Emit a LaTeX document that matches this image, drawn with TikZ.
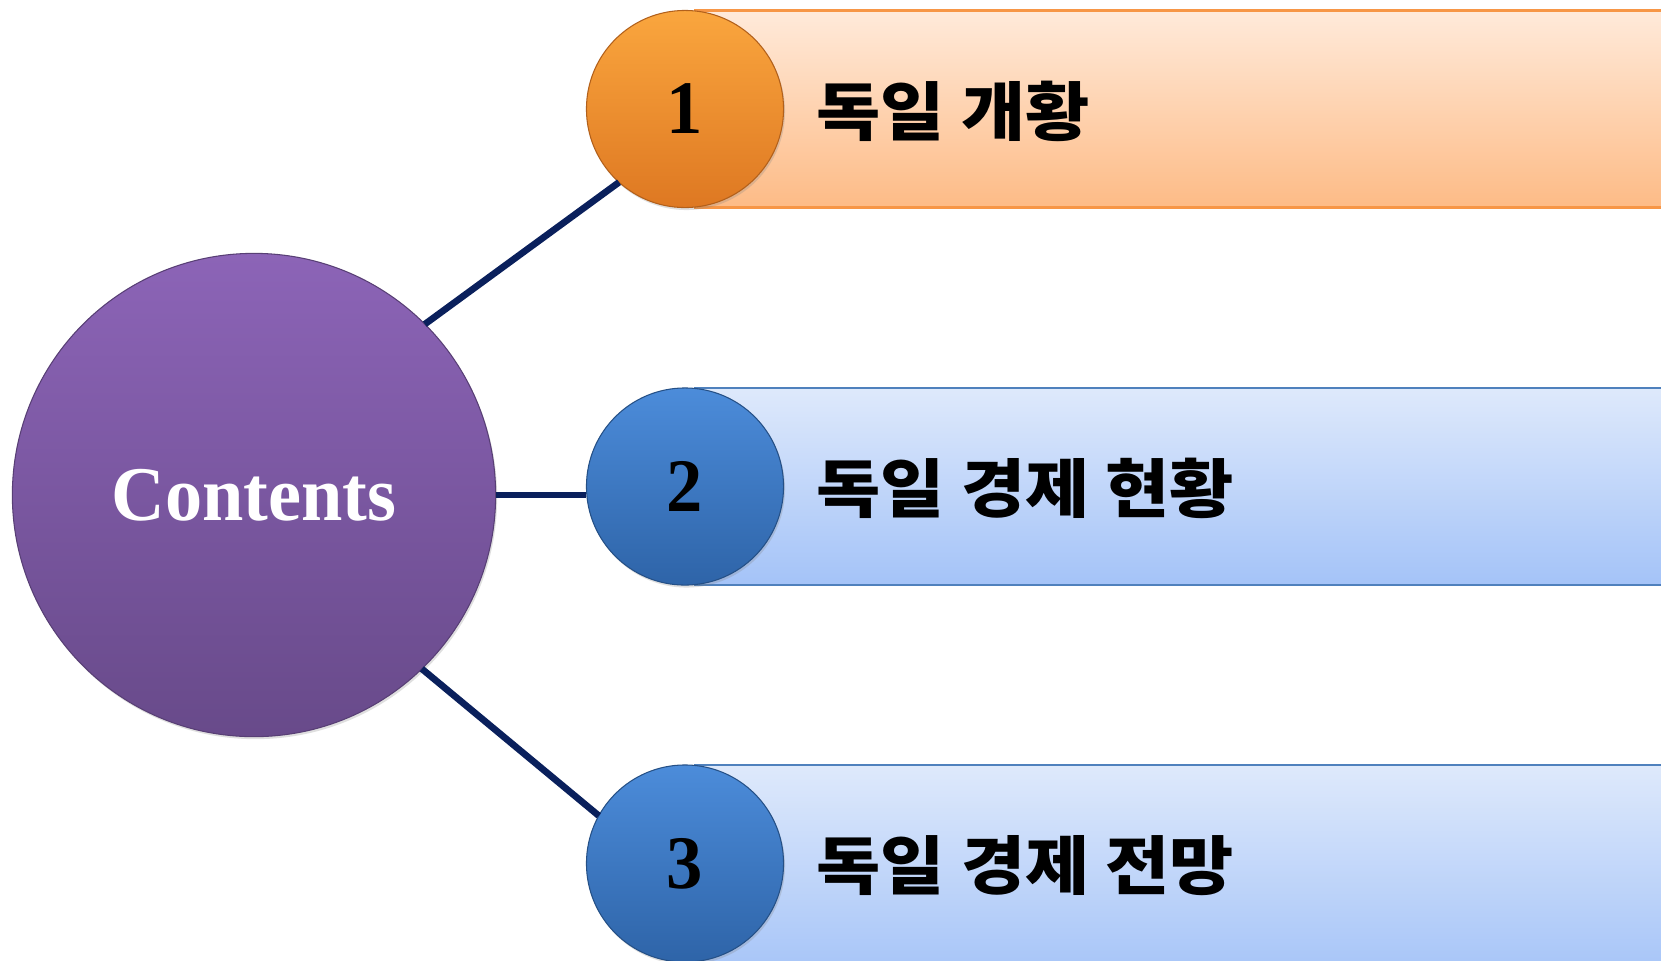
\documentclass[tikz,border=0pt]{standalone}
\usepackage{fontspec}
\usetikzlibrary{shadows}
\setmainfont{Liberation Serif}
\newfontfamily\narrowserif[FakeStretch=0.96]{Liberation Serif}
\newfontfamily\kr[FakeStretch=1.09]{Noto Sans CJK KR}
\definecolor{navyln}{RGB}{10,32,92}
\definecolor{purtop}{RGB}{140,100,183}
\definecolor{purbot}{RGB}{104,74,138}
\definecolor{ortop}{RGB}{250,166,62}
\definecolor{orbot}{RGB}{222,120,34}
\definecolor{bltop}{RGB}{76,140,218}
\definecolor{blbot}{RGB}{46,100,168}
\definecolor{orbartop}{RGB}{255,234,218}
\definecolor{orbarbot}{RGB}{253,187,134}
\definecolor{orline}{RGB}{247,150,70}
\definecolor{blbartop}{RGB}{222,233,251}
\definecolor{blbarbot}{RGB}{164,195,248}
\definecolor{blline}{RGB}{79,129,189}

\begin{document}
\begin{tikzpicture}[x=0.01cm, y=-0.01cm]
		\tikzstyle{ln} = [line width=1.9pt, draw=navyln]
		\tikzstyle{shd} = [drop shadow={opacity=0.25, shadow xshift=0.015cm, shadow yshift=-0.025cm}]
		\tikzstyle{num} = [circle, minimum size=1.97cm, inner sep=0pt, outer sep=0pt, shd, font=\narrowserif\fontsize{21.5}{24}\selectfont\bfseries]
		\tikzstyle{orb} = [num, top color=ortop, bottom color=orbot, draw=orbot!80!black, line width=0.3pt]
		\tikzstyle{blb} = [num, top color=bltop, bottom color=blbot, draw=blbot!80!black, line width=0.3pt]
		\tikzstyle{lbl} = [anchor=west, inner sep=0pt, font=\kr\bfseries\fontsize{18.2}{22}\selectfont]
		\useasboundingbox (0,0) rectangle (1661,960);
		\fill [white] (0,0) rectangle (1661,960);
		\shade [top color=orbartop, bottom color=orbarbot] (694,10.6) rectangle (1661,207.6);
		\draw [orline, line width=0.8pt] (694,10.6) -- (1661,10.6);
		\draw [orline, line width=0.8pt] (694,207.6) -- (1661,207.6);
		\shade [top color=blbartop, bottom color=blbarbot] (694,388) rectangle (1661,585);
		\draw [blline, line width=0.8pt] (694,388) -- (1661,388);
		\draw [blline, line width=0.8pt] (694,585) -- (1661,585);
		\shade [top color=blbartop, bottom color=blbarbot!90!blbartop] (694,765) rectangle (1661,960);
		\draw [blline, line width=0.8pt] (694,765) -- (1661,765);
		\node [circle, minimum size=4.83cm, inner sep=0pt, outer sep=0pt, shd, top color=purtop, bottom color=purbot, draw=purbot!85!black, line width=0.3pt, text=white, font=\narrowserif\fontsize{22}{26}\selectfont\bfseries] (v0) at (254,495) {Contents};
		\node [orb] (v1) at (685,109) {1};
		\node [blb] (v2) at (685,486.5) {2};
		\node [blb] (v3) at (685,863.5) {3};
		\draw [ln] (v0.45) -- (v1.228);
		\draw [ln] (v0.east) -- (v0.east -| v2.west);
		\draw [ln] (v0.-46) -- (v3.151);
		\node [lbl] (t1) at (816,111) {독일 개황};
		\node [lbl] (t2) at (816,488.5) {독일 경제 현황};
		\node [lbl] (t3) at (816,865.5) {독일 경제 전망};
\end{tikzpicture}
\end{document}
